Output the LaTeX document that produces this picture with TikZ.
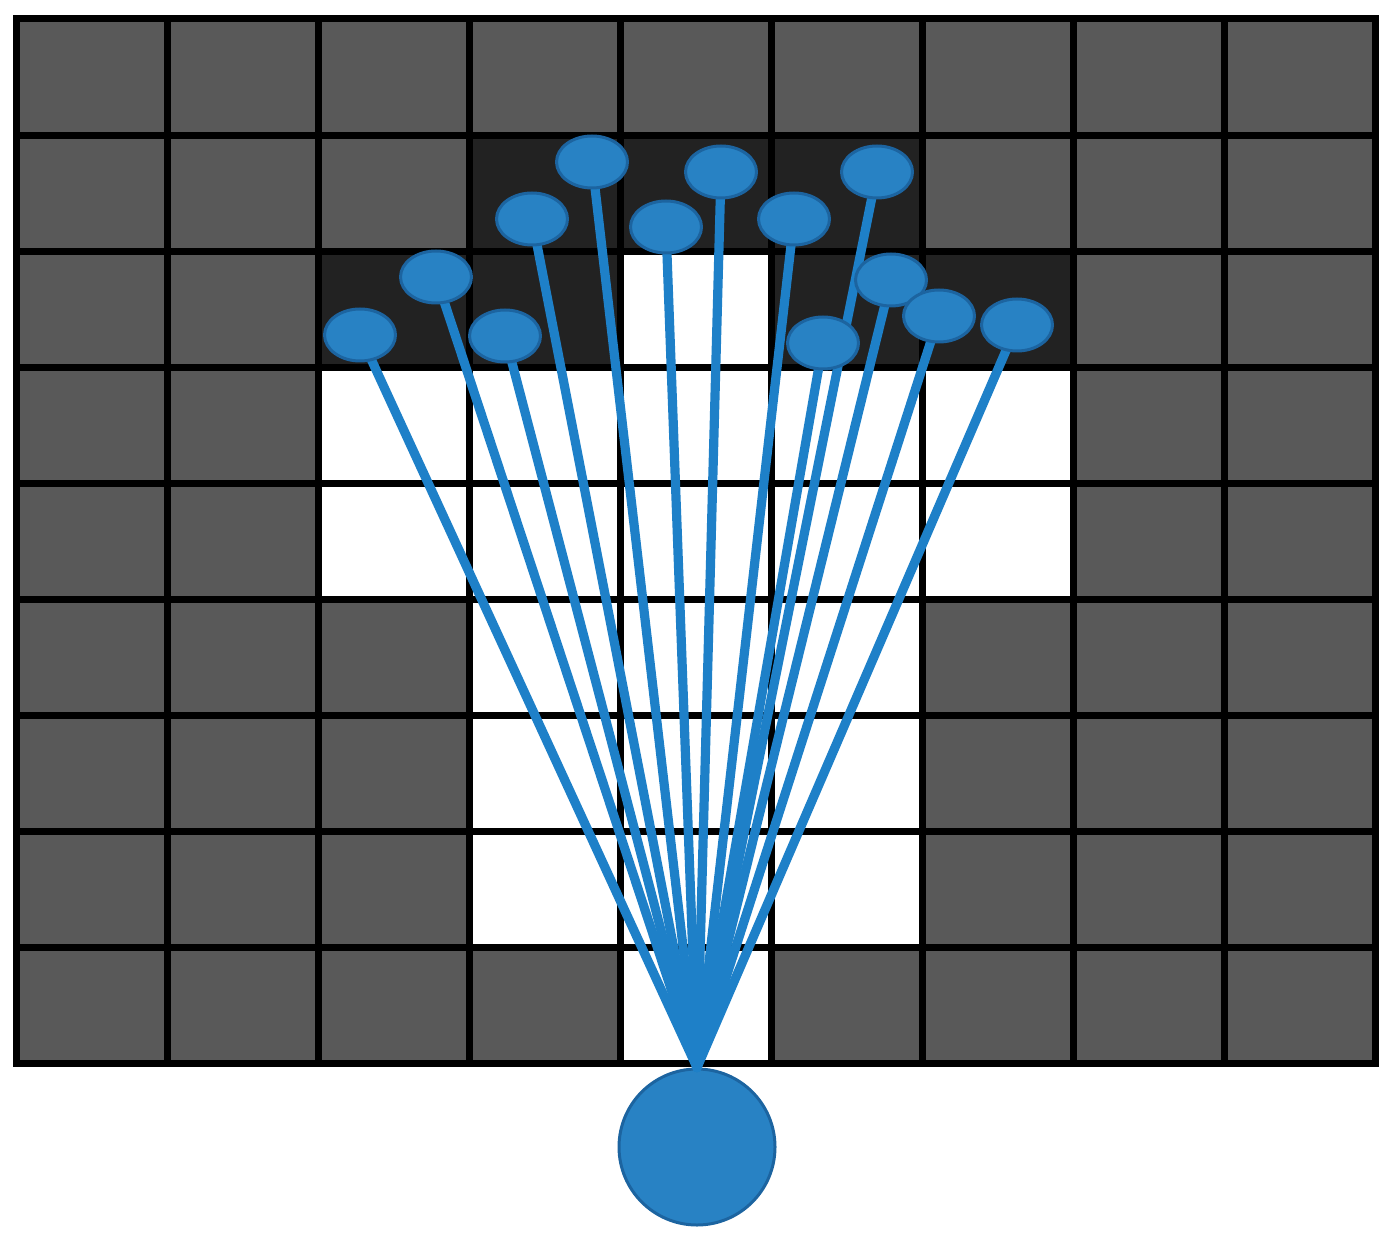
\documentclass[tikz,border=0pt]{standalone}
\usetikzlibrary{shapes.geometric}
\definecolor{cellgray}{RGB}{89,89,89}
\definecolor{celldark}{RGB}{34,34,34}
\definecolor{beamblue}{RGB}{40,130,196}
\definecolor{beamedge}{RGB}{28,100,160}
\definecolor{rayblue}{RGB}{30,128,200}
\begin{document}
\begin{tikzpicture}[x=0.5pt, y=-0.5pt, line cap=round, line join=round]
	\tikzset{ray/.style={rayblue, line width=4.6pt},
		beam/.style={ellipse, fill=beamblue, draw=beamedge, line width=1.5pt, minimum width=35.5pt, minimum height=26pt, inner sep=0pt},
		robot/.style={circle, fill=beamblue, draw=beamedge, line width=1.5pt, minimum size=78pt, inner sep=0pt}}
	\def\cw{151}
	\def\ch{116.1}
	\useasboundingbox (0,0) rectangle (1390,1240);
	% occupancy grid
	\fill[cellgray] (16,19) rectangle (16+9*\cw,19+9*\ch);
	\foreach \c/\r in {4/2, 2/3,3/3,4/3,5/3,6/3, 2/4,3/4,4/4,5/4,6/4, 3/5,4/5,5/5, 3/6,4/6,5/6, 3/7,4/7,5/7, 4/8}
		\fill[white] (16+\c*\cw,19+\r*\ch) rectangle ++(\cw,\ch);
	\foreach \c/\r in {3/1,4/1,5/1, 2/2,3/2,5/2,6/2}
		\fill[celldark] (16+\c*\cw,19+\r*\ch) rectangle ++(\cw,\ch);
	\foreach \c in {0,...,9}
		\draw[line width=3.5pt, line cap=rect] (16+\c*\cw,19)--(16+\c*\cw,19+9*\ch);
	\foreach \r in {0,...,9}
		\draw[line width=3.5pt, line cap=rect] (16,19+\r*\ch)--(16+9*\cw,19+\r*\ch);
	% robot and beams
	\node[robot] (robot) at (697,1147) {};
	\foreach \n/\x/\y in {1/360/335, 2/436/277, 3/505/336, 4/532/219, 5/592/162, 6/666/227, 7/721/172,
		8/794/219, 9/877/172, 10/891/280, 11/823/343, 12/939/316, 13/1017/325}
		\coordinate (p\n) at (\x,\y);
	\foreach \n in {1,...,13}
		\draw[ray] (robot.north) -- (p\n);
	\foreach \n in {1,...,13}
		\node[beam] (b\n) at (p\n) {};
\end{tikzpicture}
\end{document}
